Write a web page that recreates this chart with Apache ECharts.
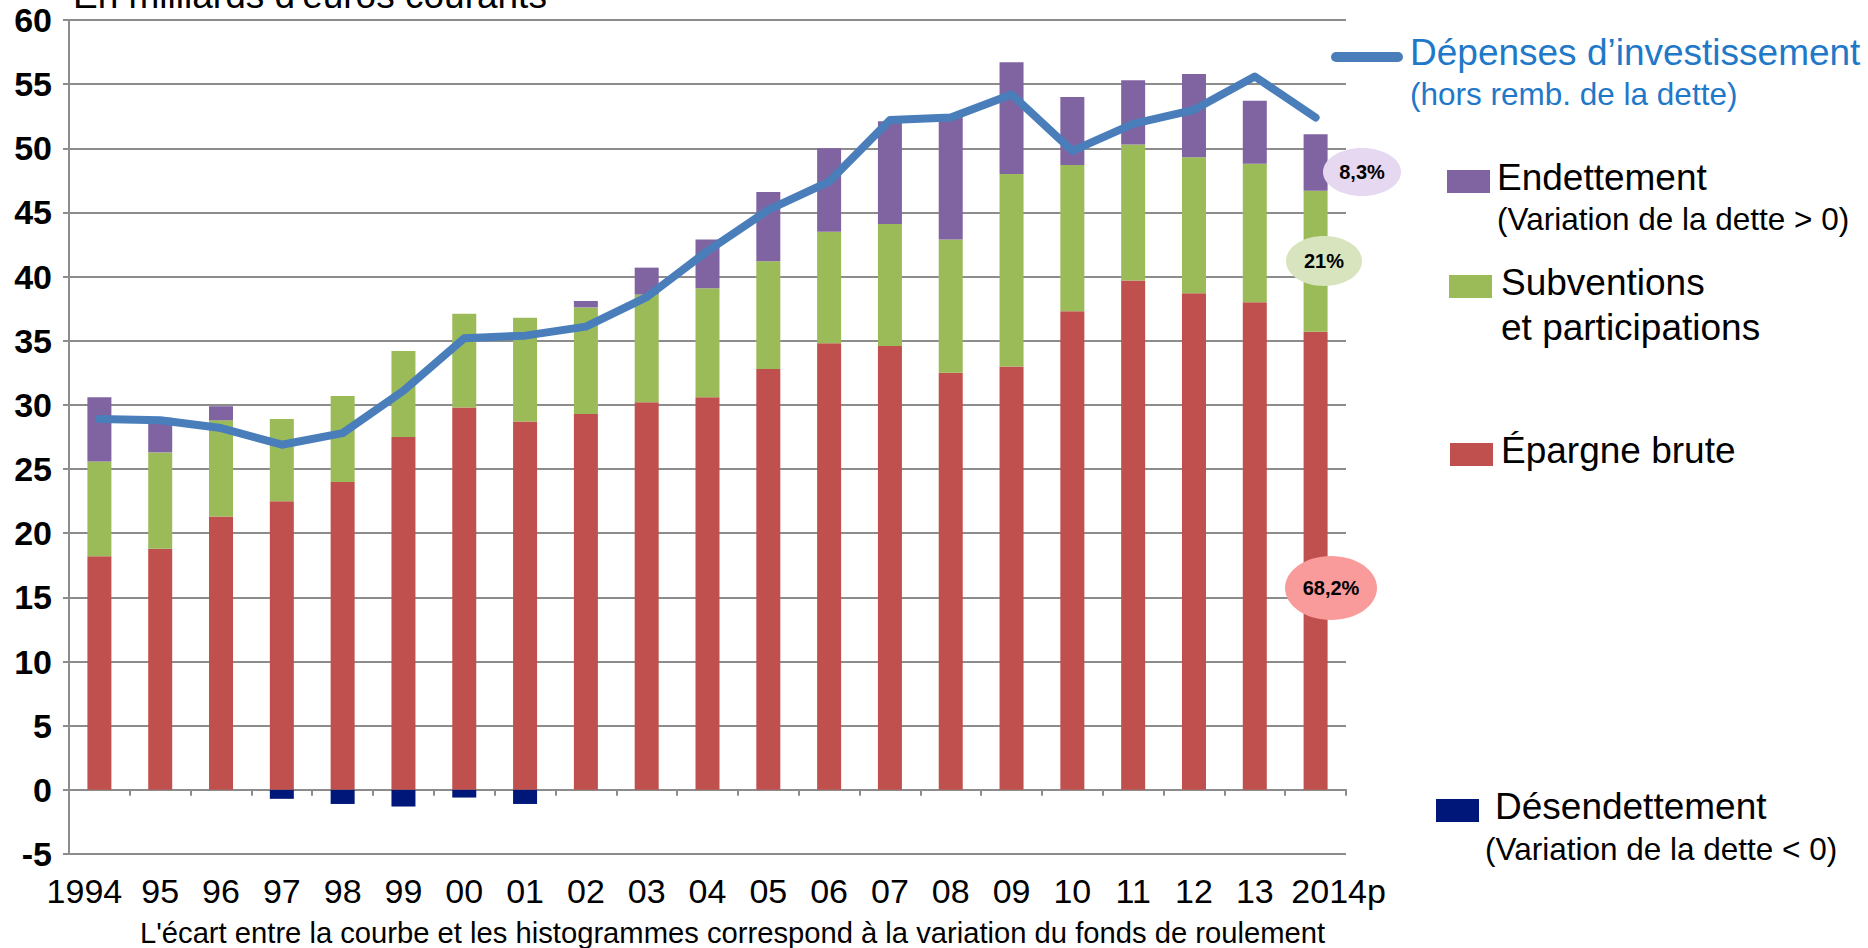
<!DOCTYPE html>
<html>
<head>
<meta charset="utf-8">
<script src="https://cdn.jsdelivr.net/npm/echarts@6/dist/echarts.min.js"></script>
<style>
html,body{margin:0;padding:0;background:#ffffff;}
#chart{width:1868px;height:948px;}
</style>
</head>
<body>
<div id="chart"></div>
<script>
// ---- data (milliards d'euros courants) ----
const categories = ['1994','95','96','97','98','99','00','01','02','03','04','05','06','07','08','09','10','11','12','13','2014p'];
const epargneBrute   = [18.2, 18.8, 21.3, 22.5, 24.0, 27.5, 29.8, 28.7, 29.3, 30.2, 30.6, 32.8, 34.8, 34.6, 32.5, 33.0, 37.3, 39.7, 38.7, 38.0, 35.7];
const subventions    = [7.4, 7.5, 7.5, 6.4, 6.7, 6.7, 7.3, 8.1, 8.3, 8.4, 8.5, 8.4, 8.7, 9.5, 10.4, 15.0, 11.4, 10.6, 10.6, 10.8, 11.0];
const endettement    = [5.0, 2.7, 1.1, 0, 0, 0, 0, 0, 0.5, 2.1, 3.8, 5.4, 6.5, 8.0, 9.6, 8.7, 5.3, 5.0, 6.5, 4.9, 4.4];
const desendettement = [0, 0, 0, -0.7, -1.1, -1.3, -0.6, -1.1, 0, 0, 0, 0, 0, 0, 0, 0, 0, 0, 0, 0, 0];
const depensesInvest = [28.9, 28.8, 28.2, 26.9, 27.8, 31.1, 35.2, 35.4, 36.1, 38.4, 42.0, 45.2, 47.4, 52.2, 52.4, 54.2, 49.8, 51.9, 53.0, 55.6, 52.4];
const yMin = -5, yMax = 60, yStep = 5;
const shares2014 = ['8,3%', '21%', '68,2%'];

const FONT = "'Liberation Sans', Arial, Helvetica, sans-serif";
const GRID_COL = '#8c8c8c';
const C_RED = '#C0504D', C_GREEN = '#9BBB59', C_PURPLE = '#8064A2', C_NAVY = '#00177A', C_LINE = '#4A7EBB', C_BLUE_TXT = '#1F78C8';

const N_LINE = 'Dépenses d’investissement';
const N_ENDET = 'Endettement';
const N_SUBV = 'Subventions';
const N_EPAR = 'Épargne brute';
const N_DESEN = 'Désendettement';

const chart = echarts.init(document.getElementById('chart'), null, {renderer: 'svg'});

// legend item: text raised by `lift` px above the icon centre (via a taller invisible strut token)
function legendBox(name, left, top, lift, padLeft, color, icon, iw, ih, fs) {
  const lh = fs;
  return {
    data: [name], left: left, top: top, padding: 0, orient: 'horizontal',
    selectedMode: false, icon: icon, itemWidth: iw, itemHeight: ih, itemGap: 0,
    formatter: function (n) { return '{t|' + n + '}{s| }'; },
    textStyle: {
      fontFamily: FONT, fontSize: fs, color: color,
      rich: {
        t: {fontFamily: FONT, fontSize: fs, lineHeight: lh, color: color, verticalAlign: 'top', padding: [0, 0, 0, padLeft]},
        s: {fontFamily: FONT, fontSize: 1, lineHeight: lh + 2 * lift, width: 1, verticalAlign: 'top'}
      }
    }
  };
}

const option = {
  backgroundColor: '#ffffff',
  animation: false,
  grid: {left: 69, right: 522, top: 20, bottom: 94, containLabel: false},
  xAxis: [
    {
      type: 'category', data: categories, position: 'bottom',
      axisLine: {show: false, onZero: false}, axisTick: {show: false}, splitLine: {show: false},
      axisLabel: {
        margin: 20, interval: 0, color: '#000', fontFamily: FONT, fontSize: 34,
        formatter: function (v, i) {
          if (i === 0) return '{first|' + v + '}';
          if (i === categories.length - 1) return '{last|' + v + '}';
          return v;
        },
        rich: {
          first: {fontFamily: FONT, fontSize: 34, color: '#000', padding: [0, 30, 0, 0]},
          last: {fontFamily: FONT, fontSize: 34, color: '#000', padding: [0, 0, 0, 46]}
        }
      }
    },
    {
      type: 'category', data: categories, position: 'bottom',
      axisLine: {show: true, onZero: true, onZeroAxisIndex: 0, lineStyle: {color: GRID_COL, width: 2}},
      axisTick: {show: true, length: 6, lineStyle: {color: GRID_COL, width: 2}},
      axisLabel: {show: false}, splitLine: {show: false}
    }
  ],
  yAxis: {
    type: 'value', min: yMin, max: yMax, interval: yStep,
    axisLine: {show: true, lineStyle: {color: GRID_COL, width: 2}},
    axisTick: {show: true, length: 6, lineStyle: {color: GRID_COL, width: 2}},
    splitLine: {show: true, lineStyle: {color: GRID_COL, width: 2}},
    axisLabel: {margin: 17, color: '#000', fontFamily: FONT, fontSize: 34, fontWeight: 'bold'}
  },
  legend: [
    legendBox(N_LINE, 1331, 34, 4.5, 2, C_BLUE_TXT, 'path://M5,0 L67,0 A5,5 0 0 1 67,10 L5,10 A5,5 0 0 1 5,0 Z', 72, 10, 37),
    legendBox(N_ENDET, 1447, 159, 4, 2, '#000', 'rect', 43, 23, 37),
    legendBox(N_SUBV, 1449, 264, 4, 4, '#000', 'rect', 43, 23, 37),
    legendBox(N_EPAR, 1450, 432, 4, 3, '#000', 'rect', 43, 23, 37),
    legendBox(N_DESEN, 1436, 788, 4, 11, '#000', 'rect', 43, 23, 37)
  ],
  series: [
    {name: N_EPAR, type: 'bar', stack: 'total', xAxisIndex: 0, barWidth: 24, data: epargneBrute, itemStyle: {color: C_RED}},
    {name: N_SUBV, type: 'bar', stack: 'total', xAxisIndex: 0, barWidth: 24, data: subventions, itemStyle: {color: C_GREEN}},
    {name: N_ENDET, type: 'bar', stack: 'total', xAxisIndex: 0, barWidth: 24, data: endettement, itemStyle: {color: C_PURPLE}},
    {name: N_DESEN, type: 'bar', stack: 'total', xAxisIndex: 0, barWidth: 24, data: desendettement, itemStyle: {color: C_NAVY}},
    {name: N_LINE, type: 'line', xAxisIndex: 0, data: depensesInvest, symbol: 'none', z: 5,
     color: C_LINE, itemStyle: {color: C_LINE},
     lineStyle: {color: C_LINE, width: 8, cap: 'round', join: 'round'}}
  ],
  graphic: [
    {type: 'text', z: 10, style: {text: "En milliards d'euros courants", x: 73, y: -5, fontFamily: FONT, fontSize: 37, fill: '#000', align: 'left', verticalAlign: 'middle'}},
    {type: 'text', z: 10, style: {text: '(hors remb. de la dette)', x: 1410, y: 94, fontFamily: FONT, fontSize: 31.5, fill: C_BLUE_TXT, align: 'left', verticalAlign: 'middle'}},
    {type: 'text', z: 10, style: {text: '(Variation de la dette > 0)', x: 1497, y: 219, fontFamily: FONT, fontSize: 31.5, fill: '#000', align: 'left', verticalAlign: 'middle'}},
    {type: 'text', z: 10, style: {text: 'et participations', x: 1501, y: 327, fontFamily: FONT, fontSize: 37, fill: '#000', align: 'left', verticalAlign: 'middle'}},
    {type: 'text', z: 10, style: {text: '(Variation de la dette < 0)', x: 1485, y: 849, fontFamily: FONT, fontSize: 31.5, fill: '#000', align: 'left', verticalAlign: 'middle'}},
    {type: 'text', z: 10, style: {text: "L'écart entre la courbe et les histogrammes correspond à la variation du fonds de roulement", x: 140, y: 933, fontFamily: FONT, fontSize: 29.2, fill: '#000', align: 'left', verticalAlign: 'middle'}},
    {type: 'ellipse', z: 20, shape: {cx: 1362, cy: 172, rx: 39, ry: 24}, style: {fill: '#E6D8F1'}},
    {type: 'text', z: 21, style: {text: shares2014[0], x: 1362, y: 172, fontFamily: FONT, fontSize: 20, fontWeight: 'bold', fill: '#000', align: 'center', verticalAlign: 'middle'}},
    {type: 'ellipse', z: 20, shape: {cx: 1324, cy: 261, rx: 38, ry: 25}, style: {fill: '#D7E4BD'}},
    {type: 'text', z: 21, style: {text: shares2014[1], x: 1324, y: 261, fontFamily: FONT, fontSize: 20, fontWeight: 'bold', fill: '#000', align: 'center', verticalAlign: 'middle'}},
    {type: 'ellipse', z: 20, shape: {cx: 1331, cy: 588, rx: 46, ry: 32}, style: {fill: '#F99B9B'}},
    {type: 'text', z: 21, style: {text: shares2014[2], x: 1331, y: 588, fontFamily: FONT, fontSize: 20, fontWeight: 'bold', fill: '#000', align: 'center', verticalAlign: 'middle'}}
  ]
};
chart.setOption(option);
</script>
</body>
</html>
